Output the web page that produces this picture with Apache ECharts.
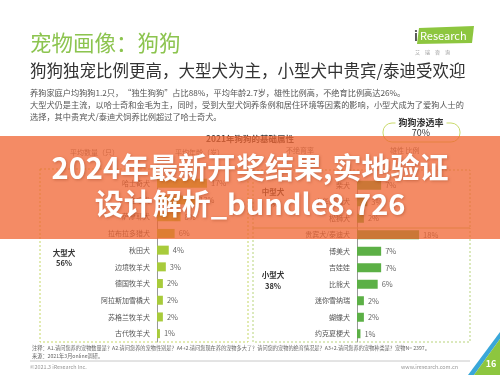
<!DOCTYPE html>
<html>
<head>
<meta charset="utf-8">
<script src="https://cdn.jsdelivr.net/npm/echarts@6/dist/echarts.min.js"></script>
<style>html,body{margin:0;padding:0;background:#fff}#c{width:500px;height:375px}</style>
</head>
<body>
<div id="c"></div>
<script>
var largeDogs = ['哈士奇犬','金毛犬','萨摩耶犬','拉布拉多猎犬','秋田犬','边境牧羊犬','德国牧羊犬','阿拉斯加雪橇犬','苏格兰牧羊犬','古代牧羊犬'];
var largeShare = [17,13,8,6,4,3,2,2,2,1];
var otherDogs = ['柴犬','中华田园犬','松狮犬','贵宾犬/泰迪犬','博美犬','吉娃娃','比熊犬','迷你雪纳瑞','蝴蝶犬','约克夏梗犬'];
var otherShare = [7,3,2,18,7,7,6,2,2,1];
var groupLabels = ['大型犬','中型犬','小型犬'];
var groupShare = ['56%','6%','38%'];

var FONT = '"Noto Sans CJK SC", "Noto Sans", sans-serif';
function T(x, y, text, size, color, opt) {
  opt = opt || {};
  return {
    type: 'text', x: x, y: y, z: opt.z || 5,
    style: {
      text: text, fill: color,
      font: (opt.bold ? 'bold ' : '') + size + 'px ' + FONT,
      textAlign: opt.align || 'left', align: opt.align || 'left',
      textVerticalAlign: 'middle', verticalAlign: 'middle',
      textShadowColor: opt.shadow || 'transparent', textShadowBlur: opt.shadow ? 3 : 0,
      textShadowOffsetX: opt.shadow ? 1 : 0, textShadowOffsetY: opt.shadow ? 1 : 0,
      backgroundColor: opt.bg, padding: opt.bg ? [0, 3] : 0
    }
  };
}
function dashRect(x, y, w, h, color) {
  return { type: 'rect', z: 1, shape: { x: x, y: y, width: w, height: h },
    style: { fill: 'none', stroke: color, lineWidth: 1, lineDash: [2, 2] } };
}

var chart = echarts.init(document.getElementById('c'), null, { renderer: 'canvas' });
var graphics = [
  T(30, 43, '宠物画像：狗狗', 21.5, '#8cc44f'),
  T(30, 71, '狗狗独宠比例更高，大型犬为主，小型犬中贵宾/泰迪受欢迎', 16.5, '#333'),
  T(30, 93, '养狗家庭户均狗狗1.2只，“独生狗狗”占比88%，平均年龄2.7岁，雄性比例高，不绝育比例高达26%。', 8.2, '#555'),
  T(30, 105, '大型犬仍是主流，以哈士奇和金毛为主，同时，受到大型犬饲养条例和居住环境等因素的影响，小型犬成为了爱狗人士的', 8.2, '#555'),
  T(30, 117, '选择，其中贵宾犬/泰迪犬饲养比例超过了哈士奇犬。', 8.2, '#555'),
  // logo
  { type: 'polygon', z: 2, shape: { points: [[419, 28], [474, 26], [472, 43], [417, 44]] }, style: { fill: '#8dc63f' } },
  T(414, 36, 'i', 13, '#555', { bold: true }),
  T(420, 36, 'Research', 11, '#fff'),
  T(415, 52, '艾　瑞　咨　询', 5, '#999'),
  // penetration box
  { type: 'rect', z: 2, shape: { x: 383, y: 123, width: 77, height: 19, r: 9 }, style: { fill: '#fff', stroke: '#c9d96a', lineWidth: 1 } },
  T(421, 123, '狗狗渗透率', 9, '#333', { bold: true, align: 'center', bg: '#fff' }),
  T(421, 133, '70%', 9, '#333', { align: 'center' }),
  // chart heading
  T(250, 139, '2021年狗狗的基础属性', 8.5, '#444', { bold: true, align: 'center' }),
  T(70, 152, '平均数量（只）', 7, '#777'),
  T(175, 152, '平均年龄（岁）', 7, '#777'),
  T(286, 150, '不绝育率', 7, '#777'),
  T(390, 150, '雄性 比例', 7, '#777'),
  // boxes
  dashRect(40, 169, 208, 173, '#c5d764'),
  dashRect(253, 170, 217, 58, '#b7d37a'),
  dashRect(253, 228, 217, 114, '#b7d37a'),
  T(64, 253, groupLabels[0], 7.5, '#333', { bold: true, align: 'center' }),
  T(64, 263, groupShare[0], 7.5, '#333', { bold: true, align: 'center' }),
  T(273, 192, groupLabels[1], 7.5, '#333', { bold: true, align: 'center' }),
  T(273, 204, groupShare[1], 7.5, '#333', { bold: true, align: 'center' }),
  T(273, 275, groupLabels[2], 7.5, '#333', { bold: true, align: 'center' }),
  T(273, 286, groupShare[2], 7.5, '#333', { bold: true, align: 'center' }),
  // footer
  T(32, 348, '注释：A1.请问您养的宠物数量是？A2.请问您养的宠物性别是？A4+2.请问您现在养的宠物多大了？请问您的宠物的绝育情况是？A3+2.请问您养的宠物种类是？宠物N= 2397。', 5.2, '#666'),
  T(32, 356, '来源：2021年3月online调研。', 5.2, '#666'),
  { type: 'line', z: 1, shape: { x1: 30, y1: 361, x2: 470, y2: 361 }, style: { stroke: '#c8c8c8', lineWidth: 1 } },
  T(30, 367, '©2021.3 iResearch Inc.', 5.4, '#999'),
  T(458, 367, 'www.iresearch.com.cn', 5.4, '#999', { align: 'right' }),
  { type: 'polygon', z: 2, shape: { points: [[468, 375], [500, 332], [500, 339], [474, 375]] }, style: { fill: '#3aa7d9' } },
  { type: 'polygon', z: 2, shape: { points: [[474, 375], [500, 339], [500, 375]] }, style: { fill: '#8dc63f' } },
  T(491, 364, '16', 9, '#fff', { bold: true, align: 'center' }),
  // banner
  { type: 'rect', z: 100, shape: { x: 0, y: 136, width: 500, height: 103 }, style: { fill: 'rgba(240,100,50,0.75)' } },
  T(250, 168, '2024年最新开奖结果,实地验证', 29, '#fff', { bold: true, align: 'center', z: 101, shadow: 'rgba(120,40,10,0.35)' }),
  T(250, 204, '设计解析_bundle8.726', 29, '#fff', { bold: true, align: 'center', z: 101, shadow: 'rgba(120,40,10,0.35)' })
];

function yAx(idx, cats) {
  return {
    type: 'category', gridIndex: idx, data: cats, inverse: true,
    axisLine: { show: true, lineStyle: { color: '#999', width: 1 } },
    axisTick: { show: false },
    axisLabel: { fontSize: 7, color: '#555', margin: 7, fontFamily: FONT },
    splitLine: { show: false }
  };
}
function barSeries(idx, vals, color) {
  return {
    type: 'bar', xAxisIndex: idx, yAxisIndex: idx, data: vals, barWidth: 9,
    itemStyle: { color: color },
    label: { show: true, position: 'right', distance: 4, formatter: '{c}%', fontSize: 7.5, color: '#666', fontFamily: FONT },
    silent: true, animation: false
  };
}

chart.setOption({
  animation: false,
  textStyle: { fontFamily: FONT },
  grid: [
    { left: 157, top: 175, width: 100, height: 167 },
    { left: 357, top: 177, width: 100, height: 165 }
  ],
  xAxis: [
    { type: 'value', gridIndex: 0, min: 0, max: 34, show: false },
    { type: 'value', gridIndex: 1, min: 0, max: 29, show: false }
  ],
  yAxis: [yAx(0, largeDogs), yAx(1, otherDogs)],
  series: [barSeries(0, largeShare, '#a8cb3b'), barSeries(1, otherShare, '#5cb046')],
  graphic: { elements: graphics }
});
</script>
</body>
</html>
